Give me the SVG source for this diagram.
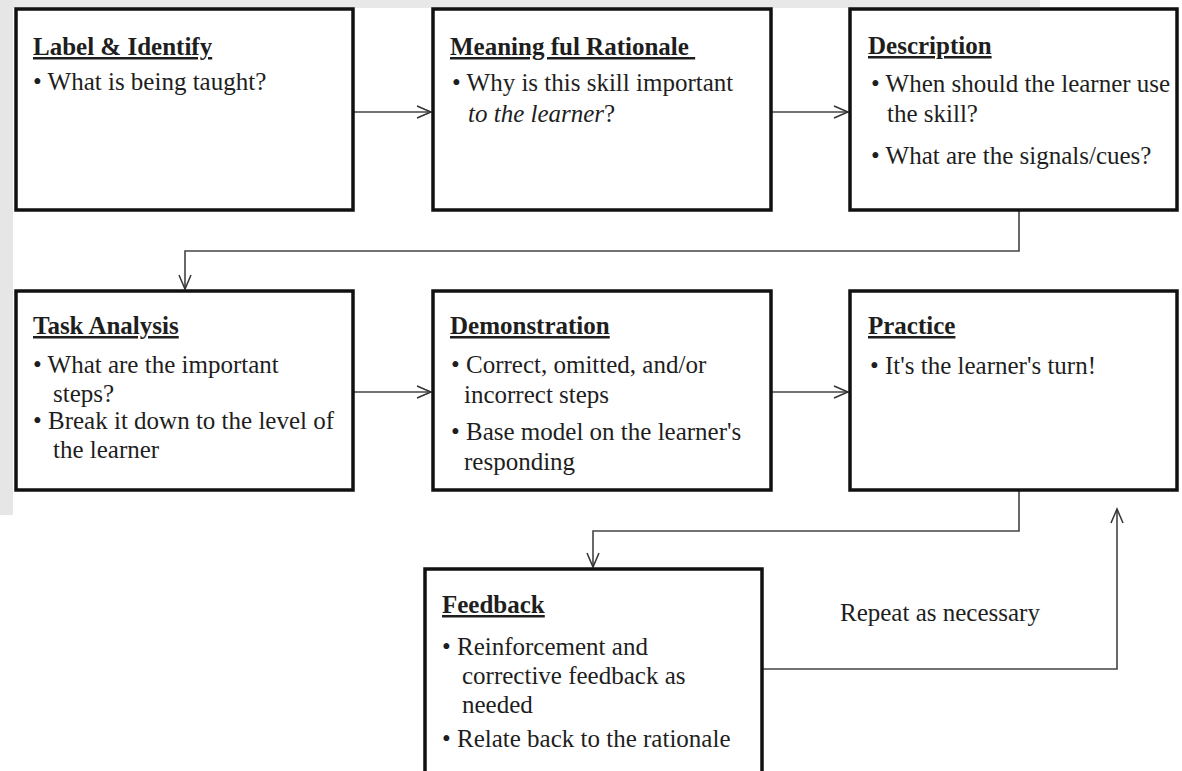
<svg xmlns="http://www.w3.org/2000/svg" width="1182" height="771" viewBox="0 0 1182 771">
  <defs>
    <marker id="arr" markerUnits="userSpaceOnUse" markerWidth="18" markerHeight="16" refX="15" refY="7" orient="auto">
      <path d="M1,1 L15,7 L1,13" fill="none" stroke="#333" stroke-width="1.5"/>
    </marker>
    <style>
      .box { fill: #fff; stroke: #111; stroke-width: 3.5; }
      .t { font-family: "Liberation Serif", "Times New Roman", serif; font-size: 25px; fill: #1e1e1e; }
      .h { font-weight: bold; text-decoration: underline; }
      .conn { fill: none; stroke: #444; stroke-width: 1.6; }
    </style>
  </defs>
  <rect x="0" y="0" width="1182" height="771" fill="#fff"/>
  <rect x="0" y="0" width="1040" height="8" fill="#e8e8e8"/>
  <rect x="0" y="0" width="13" height="515" fill="#e6e6e6"/>

  <g id="connectors">
    <line class="conn" x1="354" y1="112" x2="431" y2="112" marker-end="url(#arr)"/>
    <line class="conn" x1="772" y1="112" x2="848" y2="112" marker-end="url(#arr)"/>
    <polyline class="conn" points="1019,211 1019,251 185,251 185,289" marker-end="url(#arr)"/>
    <line class="conn" x1="354" y1="392" x2="431" y2="392" marker-end="url(#arr)"/>
    <line class="conn" x1="772" y1="392" x2="848" y2="392" marker-end="url(#arr)"/>
    <polyline class="conn" points="1019,491 1019,531 593,531 593,567" marker-end="url(#arr)"/>
    <polyline class="conn" points="763,669 1117,669 1117,509" marker-end="url(#arr)"/>
  </g>

  <g id="label-identify">
    <rect class="box" x="16" y="9" width="337" height="201"/>
    <text class="t h" x="33" y="55">Label &amp; Identify</text>
    <text class="t" x="33" y="90">• What is being taught?</text>
  </g>

  <g id="rationale">
    <rect class="box" x="433" y="9" width="338" height="201"/>
    <text class="t h" x="450" y="55" xml:space="preserve">Meaning ful Rationale </text>
    <text class="t" x="452" y="91">• Why is this skill important</text>
    <text class="t" x="468" y="122"><tspan font-style="italic">to the learner</tspan>?</text>
  </g>

  <g id="description">
    <rect class="box" x="850" y="9" width="327" height="201"/>
    <text class="t h" x="868" y="54">Description</text>
    <text class="t" x="871" y="92">• When should the learner use</text>
    <text class="t" x="887" y="122">the skill?</text>
    <text class="t" x="871" y="164">• What are the signals/cues?</text>
  </g>

  <g id="task-analysis">
    <rect class="box" x="16" y="291" width="337" height="199"/>
    <text class="t h" x="33" y="334">Task Analysis</text>
    <text class="t" x="33" y="373">• What are the important</text>
    <text class="t" x="53" y="402">steps?</text>
    <text class="t" x="33" y="429">• Break it down to the level of</text>
    <text class="t" x="53" y="458">the learner</text>
  </g>

  <g id="demonstration">
    <rect class="box" x="433" y="291" width="338" height="199"/>
    <text class="t h" x="450" y="334">Demonstration</text>
    <text class="t" x="451" y="373">• Correct, omitted, and/or</text>
    <text class="t" x="464" y="403">incorrect steps</text>
    <text class="t" x="451" y="440">• Base model on the learner's</text>
    <text class="t" x="464" y="470">responding</text>
  </g>

  <g id="practice">
    <rect class="box" x="850" y="291" width="327" height="199"/>
    <text class="t h" x="868" y="334">Practice</text>
    <text class="t" x="870" y="374">• It's the learner's turn!</text>
  </g>

  <g id="feedback">
    <rect class="box" x="425" y="569" width="337" height="210"/>
    <text class="t h" x="442" y="613">Feedback</text>
    <text class="t" x="442" y="655">• Reinforcement and</text>
    <text class="t" x="462" y="684">corrective feedback as</text>
    <text class="t" x="462" y="713">needed</text>
    <text class="t" x="442" y="747">• Relate back to the rationale</text>
  </g>

  <text class="t" x="840" y="621">Repeat as necessary</text>
</svg>
